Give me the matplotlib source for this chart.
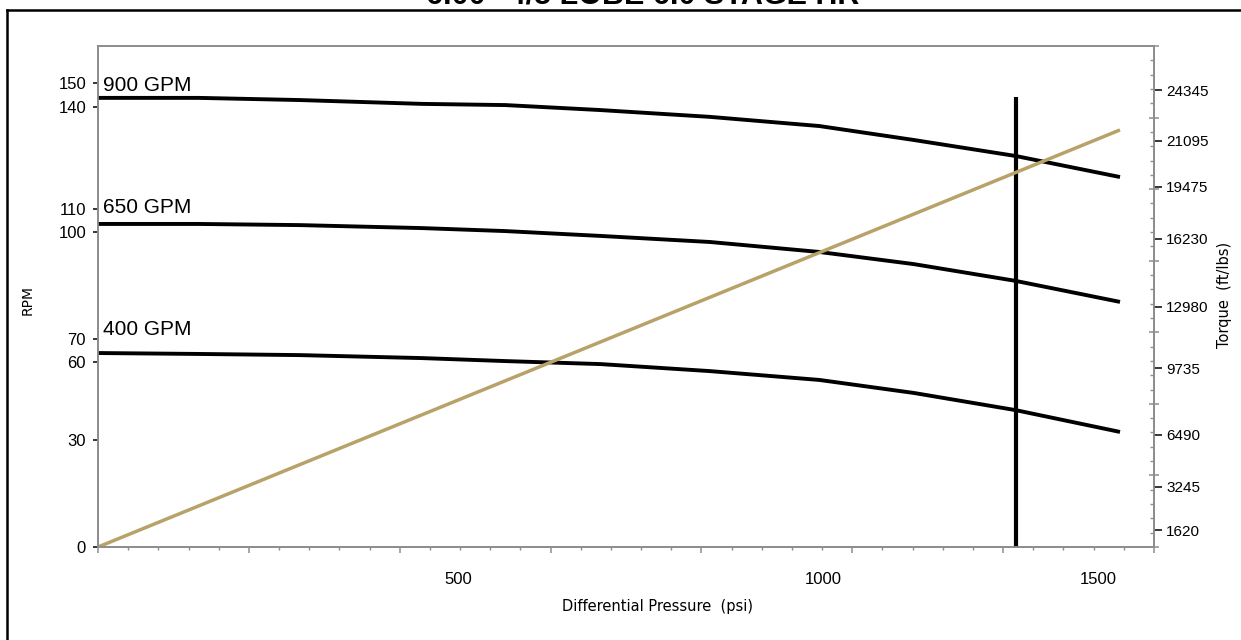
import numpy as np
import matplotlib
matplotlib.use("Agg")
import matplotlib.pyplot as plt
from matplotlib.lines import Line2D
from matplotlib.ticker import FixedLocator, MultipleLocator, NullFormatter

# ---------------- data ----------------
title = '6.00" 4/5 LOBE 6.0 STAGE HR'
x_ticks = [500, 1000, 1500]
rpm_ticks = [0, 30, 60, 70, 100, 110, 140, 150]
torque_ticks = [1620, 3245, 6490, 9735, 12980, 16230, 19475, 21095, 24345]

psi = [0, 140, 280, 450, 565, 695, 845, 995, 1165, 1350, 1540]
rpm_900 = [143.8, 143.8, 142.9, 141.3, 140.8, 139.1, 137.1, 134.4, 130.3, 125.6, 119.4]
rpm_650 = [103.5, 103.5, 103.0, 101.7, 100.4, 98.9, 97.2, 94.4, 91.0, 86.3, 80.4]
rpm_400 = [63.9, 63.5, 63.0, 61.7, 60.4, 59.2, 56.5, 53.1, 48.1, 41.5, 33.1]
curve_labels = ["900 GPM", "650 GPM", "400 GPM"]
label_rpm = [146.7, 108.3, 71.1]

torque_psi = [0, 1540]
torque_val = [0, 21800]

limit_psi = 1350
limit_rpm = [0, 144]

# ---------------- scale layout (axes-fraction placement of tick values) ----------------
AX_L, AX_R, AX_T, AX_B = 98, 1154, 46, 547
W, H = 1241, 640
x_anchor_px = [98, 458, 823, 1098]
rpm_anchor_px = [547, 440, 362, 339, 232, 209, 107, 83]
tq_anchor_vals = [0] + torque_ticks
tq_anchor_px = [547, 530, 487, 435, 368, 307, 239, 187, 141, 90]


def piecewise(vals, px, horizontal):
    vals = np.asarray(vals, float)
    px = np.asarray(px, float)
    if horizontal:
        fr = (px - AX_L) / (AX_R - AX_L)
    else:
        fr = (AX_B - px) / (AX_B - AX_T)

    def _map(v, a, b):
        v = np.asarray(v, float)
        out = np.interp(v, a, b)
        lo_s = (b[1] - b[0]) / (a[1] - a[0])
        hi_s = (b[-1] - b[-2]) / (a[-1] - a[-2])
        out = np.where(v < a[0], b[0] + (v - a[0]) * lo_s, out)
        out = np.where(v > a[-1], b[-1] + (v - a[-1]) * hi_s, out)
        return out

    fwd = lambda v: _map(v, vals, fr)
    inv = lambda f: _map(f, fr, vals)
    return fwd, inv


fx, ix = piecewise([0] + x_ticks, x_anchor_px, True)
fy, iy = piecewise(rpm_ticks, rpm_anchor_px, False)
ft, it = piecewise(tq_anchor_vals, tq_anchor_px, False)

GRAY = "#8e8e8e"
TAN = "#b8a26a"

fig = plt.figure(figsize=(W / 100, H / 100), dpi=100)
rect = [AX_L / W, 1 - AX_B / H, (AX_R - AX_L) / W, (AX_B - AX_T) / H]
ax = fig.add_axes(rect)
ax.set_xscale("function", functions=(fx, ix))
ax.set_yscale("function", functions=(fy, iy))
ax.set_xlim(float(ix(0.0)), float(ix(1.0)))
ax.set_ylim(float(iy(0.0)), float(iy(1.0)))

axr = ax.twinx()
axr.set_yscale("function", functions=(ft, it))
axr.set_ylim(float(it(0.0)), float(it(1.0)))

for a in (ax, axr):
    for s in a.spines.values():
        s.set_color(GRAY)
        s.set_linewidth(1.3)

# curves
for vals in (rpm_900, rpm_650, rpm_400):
    ax.plot(psi, vals, color="black", lw=2.8, solid_joinstyle="round",
            solid_capstyle="butt", zorder=3)
ax.plot([limit_psi, limit_psi], limit_rpm, color="black", lw=3.0,
        solid_capstyle="butt", zorder=3)
axr.plot(torque_psi, torque_val, color=TAN, lw=2.5, solid_capstyle="butt", zorder=2)

for lab, yv in zip(curve_labels, label_rpm):
    ax.annotate(lab, xy=(0, yv), xytext=(3.6, 0), textcoords="offset points",
                fontsize=15, family="Liberation Sans", va="baseline", ha="left")

# ticks & labels
ax.xaxis.set_major_locator(FixedLocator(x_ticks))
ax.set_xticklabels([str(v) for v in x_ticks])
ax.xaxis.set_minor_locator(FixedLocator([]))
ax.tick_params(axis="x", length=0, pad=18, labelsize=12)
ax.yaxis.set_major_locator(FixedLocator(rpm_ticks))
ax.set_yticklabels([str(v) for v in rpm_ticks])
ax.yaxis.set_minor_locator(FixedLocator([]))
ax.tick_params(axis="y", direction="out", length=3.6, width=1.1, color="black",
               pad=5, labelsize=12)
axr.yaxis.set_major_locator(FixedLocator(torque_ticks))
axr.set_yticklabels([str(v) for v in torque_ticks])
axr.yaxis.set_minor_locator(FixedLocator([]))
axr.tick_params(axis="y", direction="out", length=5.8, width=1.1, color="black",
                pad=3, labelsize=11)
for lab in ax.get_xticklabels() + ax.get_yticklabels() + axr.get_yticklabels():
    lab.set_family("Liberation Sans")

# evenly spaced gray tick marks
axg = fig.add_axes(rect, frameon=False)
axg.set_xlim(0, 7)
axg.set_ylim(0, 7)
axg.patch.set_visible(False)
axg.xaxis.set_major_locator(MultipleLocator(1))
axg.xaxis.set_minor_locator(MultipleLocator(0.2))
axg.yaxis.set_major_locator(MultipleLocator(1))
axg.yaxis.set_minor_locator(MultipleLocator(0.2))
axg.yaxis.tick_right()
axg.xaxis.set_major_formatter(NullFormatter())
axg.yaxis.set_major_formatter(NullFormatter())
axg.tick_params(axis="x", which="major", direction="out", length=4, width=1.1, color=GRAY)
axg.tick_params(axis="x", which="minor", direction="out", length=2.2, width=1.0, color=GRAY)
axg.tick_params(axis="y", which="major", direction="inout", length=6.5, width=1.1, color=GRAY)
axg.tick_params(axis="y", which="minor", direction="in", length=3, width=1.0, color=GRAY)

# axis titles
fig.text(27.5 / W, 1 - 300 / H, "RPM", rotation=90, ha="center", va="center",
         fontsize=10, family="DejaVu Sans")
fig.text(1225 / W, 1 - 295 / H, "Torque  (ft/lbs)", rotation=90, ha="center",
         va="center", fontsize=10.5, family="DejaVu Sans")
fig.text(657 / W, 1 - 607 / H, "Differential Pressure  (psi)", ha="center",
         va="center", fontsize=10.5, family="DejaVu Sans")

# title (clipped by the top edge, as in the source) and outer frame
fig.text(643 / W, 1 - 3 / H, title, ha="center", va="baseline", fontsize=22,
         fontweight="bold", family="Liberation Sans")
fig.add_artist(Line2D([7 / W, 7 / W], [0, 1 - 10 / H], transform=fig.transFigure,
                      color="black", lw=1.8, solid_capstyle="projecting"))
fig.add_artist(Line2D([7 / W, 1], [1 - 10 / H, 1 - 10 / H], transform=fig.transFigure,
                      color="black", lw=1.8, solid_capstyle="projecting"))

fig.savefig("out.png", dpi=100)
